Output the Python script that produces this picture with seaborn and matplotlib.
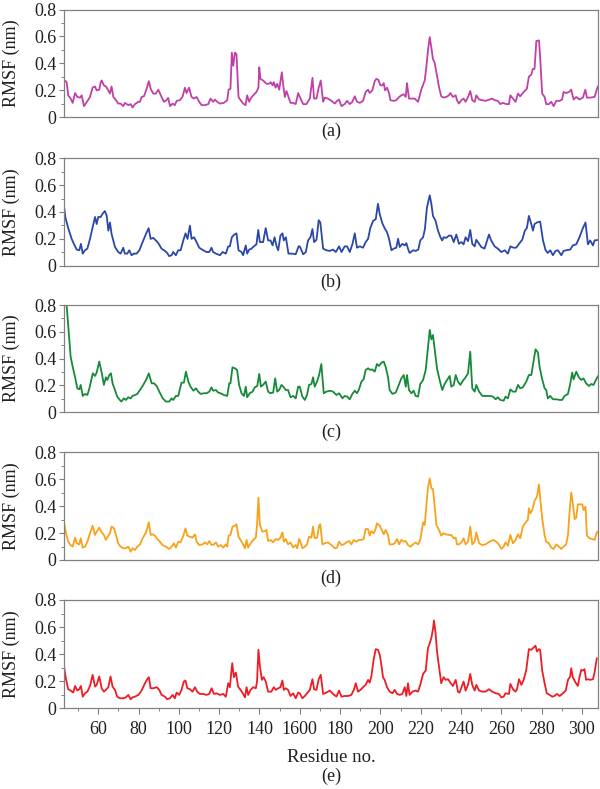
import matplotlib
matplotlib.use("Agg")
import matplotlib.pyplot as plt
import seaborn as sns
import pandas as pd
from matplotlib.ticker import MultipleLocator

# ---------------- data ----------------
res_a = [43.0,44.3,45.1,46.3,47.3,48.5,49.6,50.9,51.8,52.3,52.9,54.6,55.9,57.2,58.4,59.2,60.5,61.2,61.7,62.8,63.8,65.0,65.8,66.6,67.5,68.8,69.9,71.1,72.4,73.2,74.9,76.1,77.0,78.2,79.9,80.7,81.5,82.7,84.0,85.1,86.0,87.3,88.6,89.8,91.4,92.6,93.9,94.7,95.6,96.9,98.0,98.9,100.5,101.8,103.0,103.8,105.1,106.3,107.5,108.8,110.1,111.3,112.9,114.6,115.7,117.0,117.9,119.0,120.4,122.3,124.0,124.7,125.6,126.3,127.0,127.8,128.6,129.6,130.6,131.9,133.1,133.9,134.9,135.6,136.9,138.5,139.5,139.9,140.5,141.8,143.5,144.8,145.5,146.5,147.1,148.0,148.8,149.8,151.1,151.8,152.6,153.4,154.4,155.4,156.7,158.0,159.2,
         160.0,161.7,163.3,165.0,166.3,167.1,168.3,169.4,170.4,171.6,172.4,174.0,175.7,177.4,178.5,179.5,180.7,182.3,183.5,184.8,186.1,187.3,188.4,189.8,191.4,192.7,193.9,194.7,196.0,197.2,198.0,199.0,200.0,201.0,201.7,202.3,203.3,204.3,205.0,206.6,207.9,209.3,210.4,211.6,212.6,213.2,214.2,215.4,217.0,218.7,220.3,222.0,222.8,223.6,224.5,225.3,226.1,226.9,227.8,229.1,230.2,231.4,232.7,234.0,234.7,236.0,237.4,238.0,239.0,240.2,241.3,242.3,243.5,244.6,245.6,246.8,247.6,249.0,250.6,252.2,254.2,255.5,256.7,258.3,259.5,260.8,262.5,263.8,264.5,265.8,267.1,268.3,269.4,271.1,272.7,273.7,274.9,275.7,276.5,277.4,278.7,279.3,280.3,281.5,282.3,283.6,284.8,286.0,287.3,289.0,290.2,290.9,292.2,293.6,294.7,295.9,297.2,298.8,300.5,301.7,302.5,304.1,306.3,307.9]
rmsf_a = [0.278,0.261,0.163,0.139,0.107,0.180,0.151,0.146,0.163,0.127,0.083,0.120,0.151,0.220,0.229,0.200,0.205,0.261,0.273,0.237,0.229,0.200,0.176,0.229,0.151,0.127,0.102,0.102,0.083,0.107,0.090,0.098,0.073,0.098,0.115,0.115,0.151,0.156,0.212,0.268,0.212,0.176,0.176,0.205,0.151,0.115,0.127,0.144,0.083,0.102,0.090,0.122,0.127,0.151,0.220,0.180,0.220,0.151,0.139,0.151,0.115,0.090,0.090,0.098,0.139,0.115,0.132,0.115,0.102,0.107,0.127,0.205,0.212,0.480,0.383,0.480,0.468,0.151,0.127,0.102,0.090,0.163,0.115,0.139,0.163,0.188,0.220,0.371,0.285,0.273,0.249,0.249,0.261,0.237,0.261,0.220,0.249,0.205,0.334,0.237,0.151,0.195,0.151,0.107,0.107,0.098,0.180,
          0.151,0.098,0.098,0.139,0.293,0.139,0.139,0.220,0.273,0.115,0.146,0.139,0.122,0.102,0.122,0.132,0.083,0.098,0.122,0.098,0.115,0.156,0.115,0.107,0.122,0.188,0.205,0.180,0.200,0.268,0.285,0.278,0.237,0.237,0.254,0.200,0.220,0.180,0.127,0.122,0.127,0.151,0.163,0.171,0.151,0.254,0.139,0.139,0.139,0.115,0.205,0.273,0.371,0.493,0.595,0.517,0.432,0.407,0.334,0.224,0.156,0.146,0.151,0.163,0.180,0.151,0.163,0.127,0.102,0.127,0.139,0.115,0.151,0.195,0.127,0.115,0.163,0.132,0.127,0.122,0.132,0.139,0.127,0.122,0.098,0.107,0.098,0.098,0.163,0.139,0.115,0.176,0.156,0.188,0.212,0.302,0.317,0.359,0.359,0.566,0.571,0.444,0.176,0.151,0.098,0.098,0.115,0.083,0.122,0.122,0.132,0.188,0.180,0.188,0.205,0.132,0.151,0.132,0.146,0.205,0.146,0.146,0.151,0.229]

res_b = [43.0,43.7,45.1,46.8,48.0,49.3,50.6,51.4,52.3,53.4,54.6,55.9,57.2,58.4,59.2,60.0,61.2,62.2,63.3,64.2,65.0,65.8,66.6,68.3,69.9,71.1,72.4,73.2,74.4,75.4,76.5,77.7,79.0,80.4,82.0,83.7,85.0,86.0,87.3,88.6,89.8,91.4,93.1,94.2,95.2,96.4,97.2,98.5,99.7,100.9,102.2,103.3,104.3,105.5,106.3,107.5,108.8,110.1,112.1,113.7,115.1,116.2,117.0,118.4,120.4,121.7,123.3,124.5,125.3,126.3,127.5,128.6,129.6,131.1,131.9,133.2,133.9,134.9,136.0,137.2,138.5,139.4,140.2,141.8,143.1,144.3,145.5,146.5,147.5,148.5,149.3,150.4,151.4,152.1,153.1,154.4,156.4,158.0,159.4,
         160.0,161.7,163.0,164.1,165.3,166.3,167.1,168.3,169.4,170.2,171.6,173.2,174.9,176.5,177.9,179.5,180.7,182.3,183.5,184.8,186.1,187.3,188.4,189.8,191.4,192.7,193.9,195.0,196.4,197.7,198.8,199.7,201.0,202.1,203.3,204.3,205.5,206.6,207.9,208.8,209.6,210.9,212.1,212.9,213.7,214.5,216.2,217.5,218.8,219.8,221.2,222.1,223.1,224.5,225.3,226.1,227.4,228.6,229.8,230.7,231.4,232.7,234.0,235.2,236.4,237.7,239.0,240.2,241.3,242.3,243.5,244.6,245.6,246.8,247.6,249.0,250.1,251.7,252.9,253.9,255.0,256.7,258.3,260.0,261.7,263.3,264.5,266.1,267.4,268.8,270.4,271.7,272.7,273.7,274.9,275.7,276.5,277.7,279.3,280.7,282.0,283.1,284.3,285.6,286.9,288.1,289.8,290.9,292.2,294.2,295.5,297.2,298.8,300.5,301.8,303.0,304.1,305.5,306.3,308.4]
rmsf_b = [0.444,0.359,0.280,0.200,0.159,0.120,0.115,0.163,0.090,0.115,0.127,0.200,0.285,0.363,0.310,0.363,0.363,0.388,0.407,0.371,0.261,0.322,0.237,0.139,0.102,0.090,0.134,0.090,0.090,0.115,0.078,0.090,0.090,0.115,0.176,0.237,0.280,0.200,0.207,0.188,0.168,0.127,0.110,0.095,0.071,0.078,0.102,0.078,0.115,0.115,0.188,0.241,0.200,0.298,0.200,0.212,0.176,0.134,0.115,0.102,0.102,0.134,0.102,0.090,0.078,0.102,0.090,0.144,0.144,0.212,0.232,0.241,0.115,0.102,0.078,0.151,0.090,0.120,0.127,0.144,0.159,0.266,0.176,0.176,0.280,0.188,0.188,0.151,0.212,0.144,0.115,0.224,0.241,0.188,0.212,0.090,0.090,0.085,0.144,
          0.144,0.085,0.102,0.188,0.212,0.273,0.176,0.193,0.339,0.322,0.127,0.115,0.110,0.120,0.102,0.144,0.102,0.144,0.144,0.102,0.159,0.241,0.134,0.144,0.134,0.176,0.200,0.280,0.334,0.346,0.461,0.383,0.315,0.280,0.249,0.200,0.115,0.127,0.134,0.200,0.139,0.163,0.151,0.168,0.127,0.095,0.115,0.110,0.120,0.188,0.212,0.273,0.432,0.524,0.461,0.371,0.334,0.261,0.212,0.188,0.212,0.207,0.224,0.224,0.176,0.232,0.163,0.176,0.159,0.212,0.183,0.266,0.163,0.144,0.193,0.163,0.139,0.127,0.183,0.232,0.188,0.144,0.127,0.102,0.115,0.090,0.144,0.134,0.134,0.163,0.193,0.261,0.280,0.371,0.310,0.261,0.310,0.322,0.329,0.188,0.115,0.095,0.115,0.078,0.110,0.115,0.078,0.110,0.115,0.120,0.151,0.159,0.212,0.280,0.322,0.159,0.188,0.151,0.188,0.193]

res_c = [43.0,46.3,47.3,48.5,49.6,50.6,51.3,52.3,53.4,54.6,55.6,57.3,58.4,59.2,60.5,61.7,62.8,63.8,64.5,65.5,66.3,67.1,68.3,69.4,70.7,71.5,72.7,73.7,74.9,76.1,77.0,78.2,79.4,80.7,82.0,83.7,85.1,86.5,87.7,89.0,90.3,92.0,93.6,95.2,96.4,97.2,98.5,99.7,101.3,102.5,103.5,104.7,105.8,107.2,108.5,109.6,110.8,112.4,113.7,115.1,116.2,117.0,118.4,119.5,120.7,122.3,124.0,125.0,125.6,126.6,127.8,128.9,129.9,131.1,132.3,133.2,133.9,135.2,136.6,137.7,138.9,139.9,140.7,141.8,143.1,144.3,145.4,146.8,147.8,148.8,149.8,150.9,151.8,153.1,154.2,155.4,156.7,158.0,159.2,
         160.0,161.3,162.5,163.6,164.6,165.8,166.6,167.4,168.6,169.6,170.7,171.9,173.2,174.9,176.5,178.2,179.5,181.2,182.3,183.5,184.8,186.1,187.3,188.4,189.4,190.6,191.7,192.7,193.9,195.0,196.0,197.2,198.3,199.3,200.5,201.7,202.6,203.8,204.6,206.0,207.6,208.8,210.4,211.6,212.6,213.2,214.2,215.4,216.5,217.5,218.7,219.8,221.2,222.5,223.6,224.5,225.3,226.1,226.9,228.1,229.4,230.7,231.9,233.1,234.4,235.2,236.4,237.4,238.5,239.7,241.0,242.3,243.5,244.6,245.6,246.8,247.6,249.0,250.6,252.2,254.2,255.9,257.2,258.3,259.5,261.2,262.1,263.3,264.5,265.8,267.1,268.3,269.4,270.7,272.4,273.7,274.9,275.7,277.0,278.2,279.0,280.3,281.5,282.3,283.1,284.3,285.6,287.3,289.0,290.2,291.4,293.1,294.2,295.2,295.9,297.2,298.5,299.7,300.8,302.1,303.5,304.6,305.8,307.1,308.4]
rmsf_c = [1.05,0.415,0.340,0.261,0.179,0.171,0.204,0.122,0.137,0.129,0.179,0.291,0.271,0.296,0.378,0.296,0.204,0.261,0.241,0.278,0.291,0.216,0.166,0.117,0.092,0.080,0.104,0.092,0.112,0.104,0.122,0.129,0.137,0.166,0.196,0.241,0.290,0.216,0.216,0.196,0.154,0.104,0.080,0.080,0.104,0.092,0.122,0.122,0.221,0.221,0.303,0.229,0.191,0.161,0.179,0.154,0.137,0.142,0.142,0.154,0.186,0.161,0.166,0.147,0.142,0.129,0.122,0.216,0.216,0.335,0.328,0.316,0.204,0.142,0.122,0.191,0.112,0.142,0.154,0.186,0.196,0.286,0.191,0.204,0.229,0.154,0.142,0.147,0.253,0.154,0.166,0.204,0.191,0.166,0.166,0.112,0.122,0.104,0.191,
          0.191,0.117,0.092,0.129,0.204,0.211,0.261,0.191,0.229,0.278,0.360,0.142,0.154,0.161,0.154,0.129,0.142,0.104,0.122,0.117,0.097,0.137,0.161,0.142,0.171,0.229,0.246,0.316,0.328,0.316,0.320,0.303,0.360,0.345,0.370,0.378,0.340,0.261,0.166,0.137,0.147,0.191,0.253,0.278,0.191,0.278,0.166,0.142,0.161,0.122,0.117,0.211,0.241,0.316,0.477,0.614,0.544,0.576,0.477,0.328,0.241,0.166,0.211,0.241,0.271,0.191,0.204,0.278,0.229,0.204,0.236,0.261,0.291,0.452,0.179,0.154,0.204,0.154,0.122,0.122,0.122,0.117,0.097,0.112,0.092,0.087,0.117,0.104,0.171,0.154,0.154,0.204,0.179,0.186,0.229,0.278,0.278,0.353,0.470,0.445,0.340,0.246,0.179,0.166,0.104,0.122,0.097,0.097,0.092,0.092,0.122,0.137,0.211,0.296,0.246,0.303,0.261,0.241,0.253,0.216,0.196,0.211,0.204,0.246,0.278]

res_d = [43.0,44.0,45.1,46.3,47.3,48.5,49.3,50.6,51.3,52.3,53.4,54.6,55.9,57.2,58.4,59.2,60.5,61.7,62.8,63.8,65.0,65.8,66.6,67.8,68.8,69.9,71.1,72.4,73.7,74.9,76.1,77.0,78.2,79.4,80.7,82.0,83.7,85.1,86.0,87.0,88.1,89.3,90.6,91.9,93.6,95.2,96.4,97.5,98.5,99.7,100.9,102.2,103.3,104.2,105.5,106.8,108.0,108.8,110.1,111.8,112.9,114.1,115.1,116.2,117.4,118.4,119.5,120.7,122.0,123.3,124.0,124.7,125.6,126.6,127.8,128.6,129.6,130.6,131.9,132.8,133.6,134.4,135.6,136.9,138.2,138.8,139.5,140.2,141.5,142.7,143.5,144.3,145.5,146.8,148.1,149.3,150.4,151.4,152.1,153.1,154.2,155.4,156.7,158.0,158.7,159.7,
         160.0,161.3,162.5,163.6,164.6,165.8,166.6,167.4,168.6,169.6,170.2,171.2,172.4,174.0,175.7,177.4,178.5,179.5,180.7,181.8,183.1,184.5,185.6,186.8,188.1,189.4,190.6,191.7,192.7,193.9,194.7,195.5,196.7,197.7,198.3,199.7,200.5,201.7,202.6,203.8,204.6,206.0,207.1,208.3,209.3,210.4,211.6,212.6,213.7,214.9,216.2,217.5,218.7,219.8,221.2,222.0,222.8,223.6,224.5,225.3,226.1,226.9,227.8,229.1,230.2,231.1,232.4,234.0,235.2,236.4,237.4,238.0,239.0,240.2,241.3,242.3,243.5,244.6,245.6,246.8,247.6,249.0,250.6,252.2,254.2,255.9,257.5,258.8,260.0,261.2,262.1,263.3,264.5,265.8,267.1,268.3,269.4,270.7,272.1,273.2,273.7,274.4,275.4,276.5,277.7,278.7,279.3,280.3,281.5,282.3,283.6,284.8,286.0,287.3,288.6,289.8,290.9,292.2,293.1,293.9,294.7,295.5,296.4,297.2,298.0,299.2,300.2,300.8,301.8,302.5,303.8,305.1,306.3,307.4,308.4]
rmsf_d = [0.280,0.198,0.136,0.111,0.099,0.166,0.124,0.116,0.161,0.092,0.099,0.136,0.198,0.255,0.186,0.210,0.240,0.205,0.186,0.149,0.181,0.198,0.248,0.235,0.186,0.124,0.099,0.087,0.087,0.099,0.062,0.087,0.074,0.099,0.116,0.161,0.205,0.280,0.186,0.191,0.181,0.156,0.136,0.111,0.099,0.082,0.099,0.124,0.092,0.136,0.131,0.181,0.235,0.181,0.173,0.166,0.191,0.136,0.111,0.116,0.131,0.116,0.141,0.111,0.116,0.131,0.099,0.111,0.092,0.116,0.099,0.181,0.186,0.248,0.255,0.265,0.173,0.149,0.116,0.087,0.149,0.092,0.124,0.149,0.166,0.260,0.463,0.260,0.210,0.215,0.223,0.141,0.149,0.131,0.156,0.149,0.166,0.205,0.136,0.156,0.116,0.131,0.092,0.111,0.087,0.156,
          0.149,0.087,0.099,0.116,0.173,0.166,0.248,0.161,0.166,0.255,0.265,0.116,0.124,0.131,0.111,0.087,0.092,0.136,0.111,0.116,0.131,0.141,0.116,0.149,0.136,0.149,0.149,0.156,0.230,0.230,0.181,0.215,0.198,0.235,0.272,0.255,0.230,0.191,0.223,0.186,0.116,0.116,0.124,0.156,0.116,0.149,0.136,0.141,0.111,0.099,0.116,0.131,0.116,0.149,0.280,0.260,0.396,0.537,0.606,0.532,0.527,0.408,0.260,0.223,0.181,0.198,0.191,0.186,0.186,0.161,0.166,0.116,0.116,0.131,0.161,0.116,0.136,0.248,0.116,0.136,0.205,0.124,0.111,0.116,0.136,0.149,0.136,0.116,0.082,0.099,0.131,0.106,0.186,0.124,0.149,0.191,0.161,0.248,0.280,0.297,0.384,0.347,0.371,0.438,0.470,0.562,0.458,0.309,0.186,0.136,0.124,0.092,0.082,0.116,0.099,0.082,0.099,0.116,0.186,0.359,0.502,0.421,0.304,0.314,0.413,0.413,0.413,0.371,0.396,0.181,0.161,0.156,0.149,0.205,0.215]

res_e = [43.0,44.0,45.1,46.3,47.6,48.5,49.6,50.6,51.4,52.3,53.4,54.6,55.9,57.2,58.4,59.2,60.5,61.7,62.8,63.8,65.0,66.1,67.1,68.3,69.4,70.8,72.4,73.7,74.9,76.1,77.0,78.2,79.9,81.5,83.2,84.3,85.1,86.0,87.3,89.0,90.3,91.4,93.1,94.2,95.6,96.9,98.0,98.9,100.2,101.3,102.5,103.3,104.2,105.5,106.8,108.0,109.1,110.4,112.1,113.7,115.1,116.2,117.4,118.7,120.4,122.0,123.3,124.5,125.3,126.5,127.3,128.3,129.4,130.6,131.9,132.8,133.6,134.4,135.6,136.9,138.2,138.8,139.5,140.2,141.2,142.1,143.1,144.3,145.9,147.1,148.1,149.3,150.4,151.4,152.1,153.1,154.2,155.4,156.7,158.0,159.2,
         160.0,161.3,162.5,163.6,165.0,166.3,167.1,168.3,169.4,170.4,171.6,173.2,174.9,176.5,178.2,179.5,180.7,182.3,184.0,185.6,186.8,187.8,188.9,190.1,191.4,192.7,193.9,194.7,195.5,196.7,197.7,198.8,199.7,200.5,201.3,202.1,203.3,204.6,206.0,207.1,208.3,209.6,210.9,212.1,212.9,213.7,214.5,215.9,217.5,218.7,219.8,221.2,222.5,223.6,224.5,225.3,226.1,226.6,227.4,228.1,229.1,230.2,231.4,232.4,233.6,234.7,236.0,237.4,238.5,239.3,240.7,241.3,242.3,243.5,244.6,245.6,246.8,247.6,249.0,250.6,252.2,253.9,255.5,257.2,258.8,260.0,261.2,262.1,263.8,264.5,265.8,267.1,267.8,268.8,270.0,271.1,272.4,273.7,274.9,275.7,277.0,277.7,278.7,279.3,280.3,281.5,282.6,284.0,285.3,286.4,287.6,289.0,290.6,292.0,293.1,294.2,294.7,295.5,296.9,298.0,298.8,299.7,300.5,301.3,302.1,303.0,304.1,305.5,306.3,307.4]
rmsf_e = [0.309,0.215,0.141,0.131,0.116,0.165,0.131,0.141,0.165,0.086,0.111,0.123,0.165,0.247,0.160,0.173,0.235,0.148,0.123,0.136,0.156,0.235,0.160,0.136,0.086,0.074,0.074,0.081,0.099,0.067,0.081,0.086,0.099,0.131,0.185,0.215,0.230,0.148,0.148,0.156,0.136,0.099,0.086,0.067,0.074,0.099,0.074,0.116,0.099,0.136,0.198,0.205,0.148,0.141,0.123,0.156,0.123,0.106,0.106,0.099,0.106,0.148,0.106,0.111,0.099,0.106,0.086,0.185,0.156,0.333,0.230,0.264,0.160,0.136,0.106,0.081,0.156,0.099,0.136,0.156,0.148,0.198,0.432,0.314,0.210,0.230,0.198,0.123,0.123,0.156,0.136,0.148,0.156,0.205,0.136,0.148,0.136,0.091,0.111,0.074,0.116,
          0.111,0.074,0.091,0.111,0.136,0.215,0.141,0.136,0.215,0.247,0.106,0.116,0.131,0.106,0.086,0.131,0.086,0.091,0.091,0.099,0.136,0.185,0.123,0.136,0.156,0.173,0.210,0.190,0.235,0.363,0.437,0.432,0.395,0.321,0.230,0.210,0.156,0.123,0.111,0.136,0.106,0.099,0.106,0.156,0.091,0.185,0.099,0.123,0.131,0.123,0.173,0.254,0.279,0.444,0.481,0.519,0.585,0.649,0.556,0.420,0.309,0.185,0.230,0.210,0.215,0.190,0.165,0.210,0.123,0.116,0.173,0.198,0.131,0.173,0.254,0.173,0.131,0.173,0.131,0.123,0.123,0.141,0.123,0.111,0.106,0.081,0.086,0.111,0.106,0.180,0.141,0.123,0.141,0.215,0.173,0.210,0.284,0.437,0.432,0.444,0.462,0.420,0.437,0.432,0.279,0.185,0.111,0.099,0.086,0.091,0.106,0.091,0.111,0.131,0.210,0.235,0.296,0.230,0.190,0.165,0.230,0.284,0.279,0.289,0.210,0.215,0.210,0.215,0.264,0.370]

panel_tags = ["(a)", "(b)", "(c)", "(d)", "(e)"]
colors = ["#c040a6", "#2b47a8", "#178a3a", "#f8a21c", "#ee1c25"]
y_ticks = [0, 0.2, 0.4, 0.6, 0.8]
y_ticklabels = ["0", "0.2", "0.4", "0.6", "0.8"]
x_ticks = [60, 80, 100, 120, 140, 160, 180, 200, 220, 240, 260, 280, 300]
x_ticklabels = ["60", "80", "100", "120", "140", "1600", "180", "200", "220", "240", "260", "280", "300"]
x_label = "Residue no."
y_label = "RMSF (nm)"

series = [(res_a, rmsf_a), (res_b, rmsf_b), (res_c, rmsf_c), (res_d, rmsf_d), (res_e, rmsf_e)]

# ---------------- style ----------------
sns.set_style("ticks")
plt.rcParams["font.family"] = ["Liberation Serif", "DejaVu Serif"]
TXT = "#231f20"
SPINE = "#808080"

W, H = 600, 789
fig = plt.figure(figsize=(W / 100, H / 100), dpi=100)

tops = [9.5, 158.3, 305.0, 452.3, 600.0]
bottoms = [117.3, 265.7, 412.3, 560.0, 708.3]
tag_y = [131, 282, 432, 578, 776]
left_px, right_px = 64, 598

for i, ((xs, ys), tag, col) in enumerate(zip(series, panel_tags, colors)):
    t, b = tops[i], bottoms[i]
    ax = fig.add_axes([left_px / W, 1 - b / H, (right_px - left_px) / W, (b - t) / H])
    df = pd.DataFrame({"res": xs, "rmsf": ys})
    sns.lineplot(data=df, x="res", y="rmsf", ax=ax, color=col, lw=1.3,
                 estimator=None, sort=False)
    ax.set_xlim(43, 308)
    ax.set_ylim(0, 0.8)
    ax.set_yticks(y_ticks)
    ax.set_yticklabels(y_ticklabels)
    ax.yaxis.set_minor_locator(MultipleLocator(0.1))
    ax.set_ylabel(y_label, fontsize=13, color=TXT)
    ax.set_xlabel("")
    for s in ax.spines.values():
        s.set_visible(True)
        s.set_color(SPINE)
        s.set_linewidth(0.9)
    ax.tick_params(axis="y", which="major", length=3.5, width=0.8, color=SPINE,
                   labelsize=13, labelcolor=TXT, pad=2)
    ax.tick_params(axis="y", which="minor", length=2, width=0.7, color=SPINE)
    if i < 4:
        ax.tick_params(axis="x", which="both", bottom=False, labelbottom=False)
    else:
        ax.set_xticks(x_ticks)
        ax.set_xticklabels(x_ticklabels)
        ax.xaxis.set_minor_locator(MultipleLocator(10))
        ax.tick_params(axis="x", which="major", length=4, width=0.8, color=SPINE,
                       labelsize=13, labelcolor=TXT, pad=5)
        ax.tick_params(axis="x", which="minor", length=2.5, width=0.7, color=SPINE)
        ax.set_xlabel(x_label, fontsize=13.5, color=TXT, labelpad=8)
    ax.yaxis.set_label_coords(-0.082, 0.5)
    fig.text((left_px + right_px) / 2 / W, 1 - tag_y[i] / H, tag, ha="center",
             va="center", fontsize=13, color=TXT)

fig.savefig("out.png", dpi=100)
